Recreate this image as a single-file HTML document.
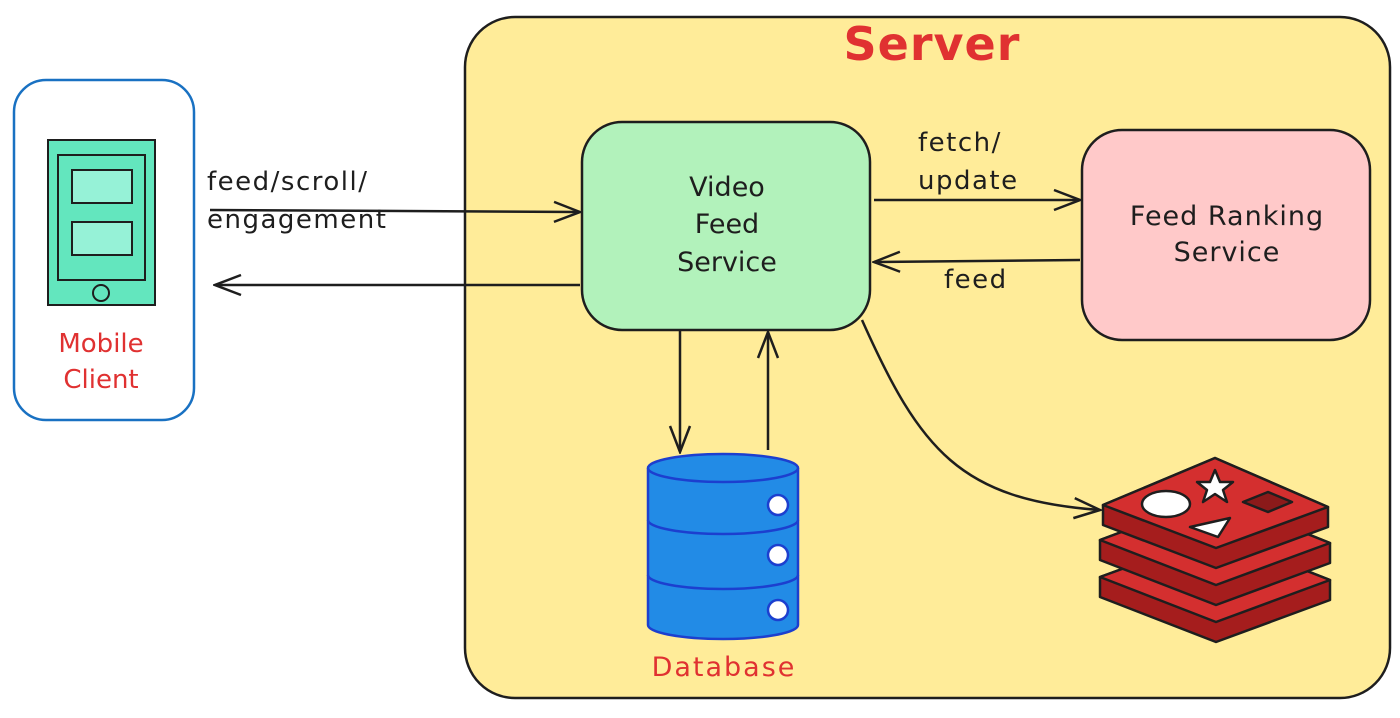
<!DOCTYPE html>
<html><head><meta charset="utf-8"><style>
html,body{margin:0;padding:0;background:#fff}
svg{display:block}
text{font-family:"DejaVu Sans","Liberation Sans",sans-serif}
</style></head><body>
<svg width="1400" height="718" viewBox="0 0 1400 718" xmlns="http://www.w3.org/2000/svg">
<defs>
<marker id="ah" markerWidth="30" markerHeight="24" refX="28" refY="12" orient="auto" markerUnits="userSpaceOnUse">
<path d="M2,2 L28,12 L2,22" fill="none" stroke="#1e1e1e" stroke-width="2.5"/>
</marker>
</defs>
<rect x="14" y="80" width="180" height="340" rx="32" fill="#fff" stroke="#1971c2" stroke-width="2.5"/>
<rect x="48" y="140" width="107" height="165" fill="#63e6be" stroke="#1e1e1e" stroke-width="2"/>
<rect x="58" y="155" width="87" height="125" fill="#63e6be" stroke="#1e1e1e" stroke-width="2"/>
<rect x="72" y="170" width="60" height="33" fill="#96f2d7" stroke="#1e1e1e" stroke-width="2"/>
<rect x="72" y="222" width="60" height="33" fill="#96f2d7" stroke="#1e1e1e" stroke-width="2"/>
<circle cx="101" cy="293" r="8" fill="#63e6be" stroke="#1e1e1e" stroke-width="2"/>
<text x="101" y="352" font-size="26" fill="#e03131" text-anchor="middle">Mobile</text>
<text x="101" y="388" font-size="26" fill="#e03131" text-anchor="middle">Client</text>
<rect x="465" y="17" width="925" height="681" rx="50" fill="#ffec99" stroke="#1e1e1e" stroke-width="2.5"/>
<text x="932" y="60" font-size="46" font-weight="bold" fill="#e03131" text-anchor="middle" letter-spacing="1">Server</text>
<rect x="582" y="122" width="288" height="208" rx="40" fill="#b2f2bb" stroke="#1e1e1e" stroke-width="2.5"/>
<text x="727" y="196" font-size="27" fill="#1e1e1e" text-anchor="middle">Video</text>
<text x="727" y="233" font-size="27" fill="#1e1e1e" text-anchor="middle">Feed</text>
<text x="727" y="271" font-size="27" fill="#1e1e1e" text-anchor="middle">Service</text>
<rect x="1082" y="130" width="288" height="210" rx="40" fill="#ffc9c9" stroke="#1e1e1e" stroke-width="2.5"/>
<text x="1227" y="225" font-size="27" fill="#1e1e1e" text-anchor="middle" letter-spacing="1">Feed Ranking</text>
<text x="1227" y="261" font-size="27" fill="#1e1e1e" text-anchor="middle" letter-spacing="1">Service</text>
<g stroke="#1e1e1e" stroke-width="2.5" fill="none" marker-end="url(#ah)">
<path d="M210,210 L580,212"/>
<path d="M580,285 L215,285"/>
<path d="M874,200 L1080,200"/>
<path d="M1080,260 L874,262"/>
<path d="M680,330 L680,452"/>
<path d="M768,450 L768,332"/>
<path d="M862,320 C920,450 960,500 1100,510"/>
</g>
<g font-size="26" fill="#1e1e1e" letter-spacing="1.5">
<text x="207" y="190">feed/scroll/</text>
<text x="207" y="228">engagement</text>
<text x="918" y="151">fetch/</text>
<text x="918" y="189">update</text>
<text x="944" y="288">feed</text>
</g>
<g stroke="#1c3fcf" stroke-width="2.5">
<path d="M648,468 L648,625 A75,14 0 0 0 798,625 L798,468" fill="#228be6"/>
<ellipse cx="723" cy="468" rx="75" ry="14" fill="#228be6"/>
<path d="M648,520 A75,14 0 0 0 798,520" fill="none"/>
<path d="M648,575 A75,14 0 0 0 798,575" fill="none"/>
<circle cx="778" cy="505" r="10" fill="#fff"/>
<circle cx="778" cy="555" r="10" fill="#fff"/>
<circle cx="778" cy="610" r="10" fill="#fff"/>
</g>
<text x="724" y="676" font-size="27" fill="#e03131" text-anchor="middle" letter-spacing="2">Database</text>
<g stroke="#1e1e1e" stroke-width="2.5" stroke-linejoin="round">
<path d="M1100,577 L1215,535 L1330,580 L1330,600 L1216,642 L1100,597 Z" fill="#a51d1d"/>
<path d="M1100,577 L1215,535 L1330,580 L1216,622 Z" fill="#d42f2f"/>
<path d="M1100,540 L1215,497 L1330,543 L1330,563 L1216,605 L1100,560 Z" fill="#a51d1d"/>
<path d="M1100,540 L1215,497 L1330,543 L1216,585 Z" fill="#d42f2f"/>
<path d="M1103,505 L1215,458 L1328,507 L1328,527 L1216,568 L1103,525 Z" fill="#a51d1d"/>
<path d="M1103,505 L1215,458 L1328,507 L1216,548 Z" fill="#d42f2f"/>
<ellipse cx="1166" cy="504" rx="24" ry="13" fill="#fff"/>
<path d="M1215,470 L1220,482 L1233,482 L1223,490 L1227,502 L1215,494 L1203,502 L1207,490 L1197,482 L1210,482 Z" fill="#fff"/>
<path d="M1243,502 L1268,492 L1292,502 L1268,512 Z" fill="#8b1a1a"/>
<path d="M1190,527 L1230,518 L1218,537 Z" fill="#fff"/>
</g>
</svg>
</body></html>
